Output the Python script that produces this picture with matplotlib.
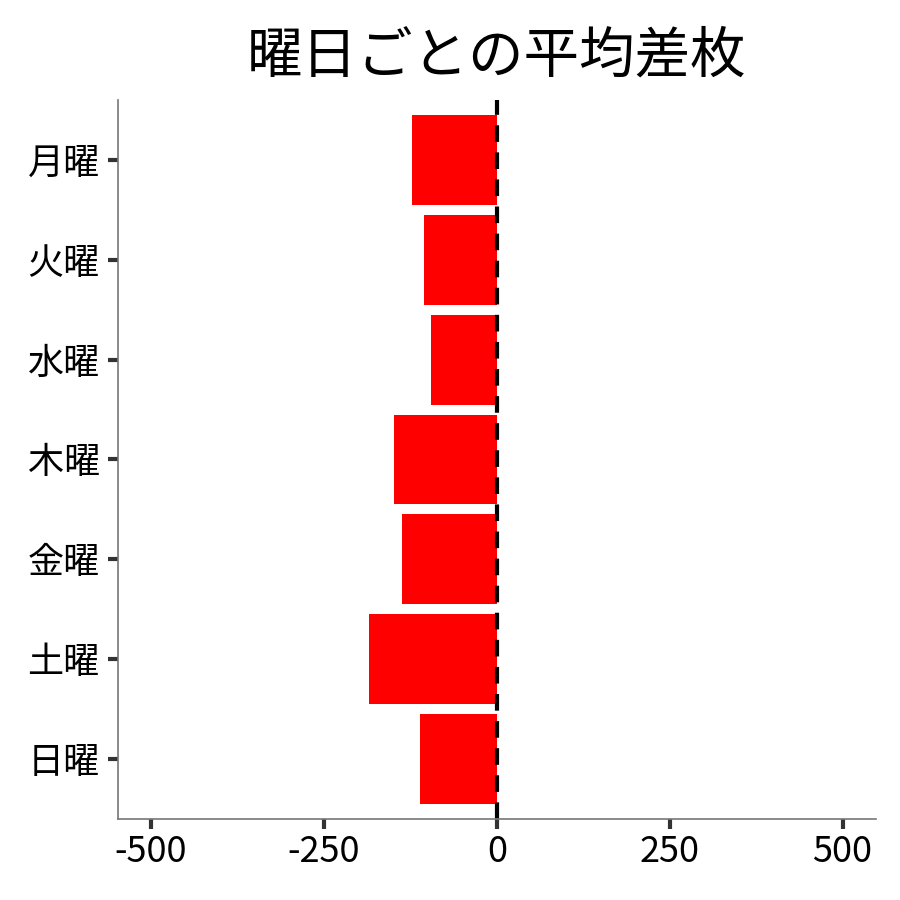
import matplotlib
matplotlib.use('Agg')
import matplotlib.pyplot as plt

plt.rcParams['font.family'] = ['Noto Sans CJK JP', 'DejaVu Sans']

# 曜日ごとのデータ
youbi = ['月曜', '火曜', '水曜', '木曜', '金曜', '土曜', '日曜']
sa_mai = [-123, -105, -95, -149, -137, -185, -111]
x_ticks = [-500, -250, 0, 250, 500]

fig = plt.figure(figsize=(9, 9), dpi=100)
ax = fig.add_axes([0.131, 0.09, 0.842, 0.799])

pos = list(range(len(youbi)))
ax.barh(pos, sa_mai, height=0.9, color='#ff0000')
ax.axvline(0, color='black', linestyle=(0, (4, 2.5)), linewidth=3)

ax.set_xlim(-548, 548)
ax.set_ylim(len(youbi) - 0.4, -0.6)
ax.set_yticks(pos)
ax.set_yticklabels(youbi)
ax.set_xticks(x_ticks)
ax.set_xticklabels([str(v) for v in x_ticks])

ax.tick_params(axis='both', labelsize=26, length=7, width=3, color='#333333', labelcolor='black')
ax.tick_params(axis='y', pad=6)
ax.tick_params(axis='x', pad=4)
for s in ['top', 'right']:
    ax.spines[s].set_visible(False)
for s in ['left', 'bottom']:
    ax.spines[s].set_color('#777777')
    ax.spines[s].set_linewidth(1.2)

ax.set_title('曜日ごとの平均差枚', fontsize=40, pad=20)

fig.savefig('out.png', dpi=100)
